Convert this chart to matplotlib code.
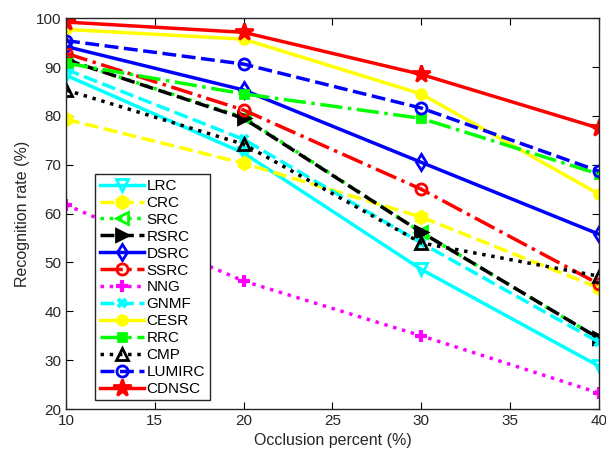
import matplotlib
matplotlib.use("Agg")
import matplotlib.pyplot as plt

plt.rcParams['font.family'] = ['Liberation Sans', 'DejaVu Sans']

x = [10, 20, 30, 40]
names = ["LRC", "CRC", "SRC", "RSRC", "DSRC", "SSRC", "NNG", "GNMF", "CESR", "RRC", "CMP", "LUMIRC", "CDNSC"]
LRC = [88.3, 72.4, 48.6, 28.8]
CRC = [79.3, 70.3, 59.3, 44.8]
SRC = [91.5, 79.7, 56.2, 34.5]
RSRC = [91.5, 79.5, 56.2, 34.5]
DSRC = [94.2, 85.3, 70.5, 55.8]
SSRC = [92.8, 81.2, 65.0, 45.6]
NNG = [61.8, 46.2, 35.0, 23.3]
GNMF = [89.5, 75.2, 54.0, 33.7]
CESR = [97.7, 95.7, 84.5, 64.0]
RRC = [90.8, 84.5, 79.5, 68.1]
CMP = [85.3, 74.2, 54.0, 47.2]
LUMIRC = [95.4, 90.6, 81.6, 68.7]
CDNSC = [99.2, 97.1, 88.5, 77.5]

series = [LRC, CRC, SRC, RSRC, DSRC, SSRC, NNG, GNMF, CESR, RRC, CMP, LUMIRC, CDNSC]
styles = [
    dict(color='#00ffff', ls='-', marker='v', mfc='none', ms=9),
    dict(color='#ffff00', ls=(0, (4, 1.6)), marker='h', mfc='#ffff00', ms=9),
    dict(color='#00ff00', ls=':', marker='<', mfc='none', ms=8),
    dict(color='black', ls=(0, (4, 1.6)), marker='>', mfc='black', ms=8),
    dict(color='#0000ff', ls='-', marker='d', mfc='none', ms=8),
    dict(color='#ff0000', ls='-.', marker='o', mfc='none', ms=8),
    dict(color='#ff00ff', ls=':', marker='+', mfc='#ff00ff', ms=9),
    dict(color='#00ffff', ls=(0, (4, 1.6)), marker='x', mfc='#00ffff', ms=6),
    dict(color='#ffff00', ls='-', marker='o', mfc='#ffff00', ms=7),
    dict(color='#00ff00', ls='-.', marker='s', mfc='#00ff00', ms=6),
    dict(color='black', ls=':', marker='^', mfc='none', ms=8),
    dict(color='#0000ff', ls=(0, (4, 1.6)), marker='o', mfc='none', ms=8),
    dict(color='#ff0000', ls='-', marker='*', mfc='#ff0000', ms=13),
]

fig = plt.figure(figsize=(6.06, 4.54), dpi=100)
ax = fig.add_axes([0.109, 0.099, 0.879, 0.861])
for name, y, st in zip(names, series, styles):
    mew = 3 if st['marker'] in ('+', 'x') else 2
    ax.plot(x, y, lw=2.5, mew=mew, label=name, **st)

ax.set_xlim(10, 40)
ax.set_ylim(20, 100)
ax.set_xticks([10, 15, 20, 25, 30, 35, 40])
ax.set_yticks(range(20, 101, 10))
ax.tick_params(direction='in', top=True, right=True, labelsize=11, labelcolor='#262626', length=5)
ax.set_xlabel('Occlusion percent (%)', fontsize=11.5, color='#262626')
ax.set_ylabel('Recognition rate (%)', fontsize=11.5, color='#262626')
for s in ax.spines.values():
    s.set_linewidth(1)
    s.set_color('#262626')

leg = ax.legend(loc='lower left', bbox_to_anchor=(0.055, 0.022), fontsize=11,
                handlelength=2.9, labelspacing=0.19, borderpad=0.3, handletextpad=0.15,
                borderaxespad=0.0, fancybox=False, framealpha=1, edgecolor='#262626')
leg.get_frame().set_linewidth(1)

fig.savefig('out.png', dpi=100)
